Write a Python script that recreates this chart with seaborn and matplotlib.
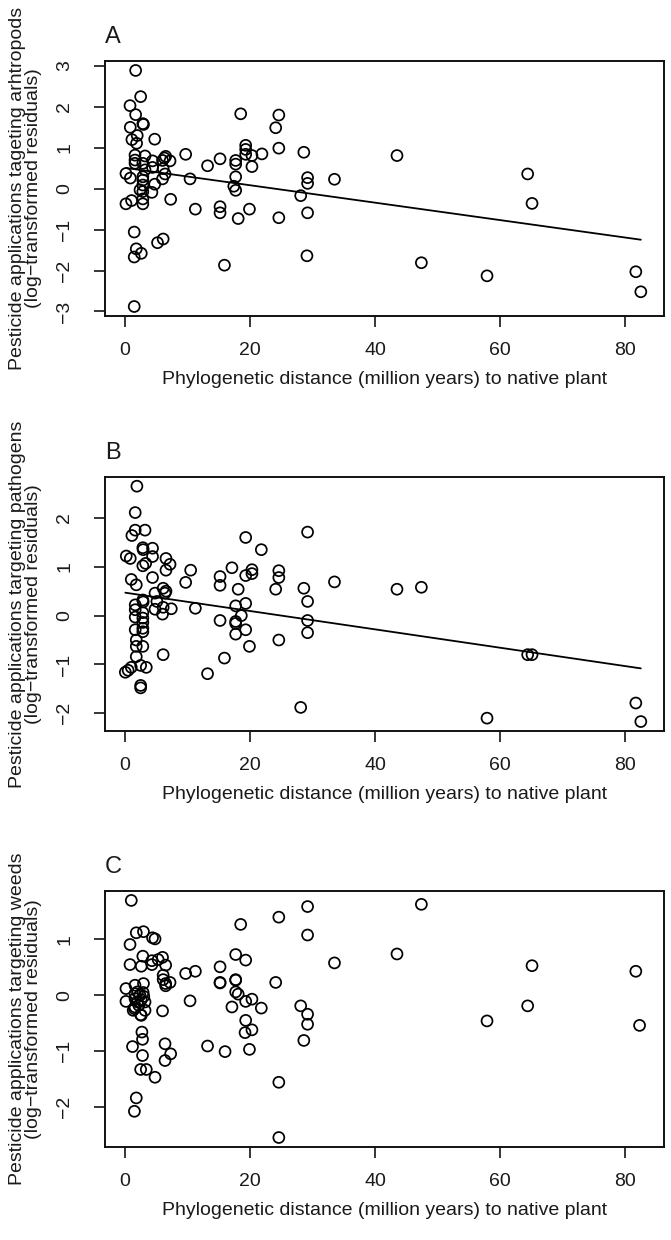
import numpy as np
import pandas as pd
import seaborn as sns
import matplotlib
matplotlib.use("Agg")
import matplotlib.pyplot as plt

# Panel A - arthropods (distance in million years, log-transformed residuals)
arth_dist = [1.7, 2.5, 0.8, 1.7, 2.85, 2.95, 0.84, 1.95, 1.1, 1.85, 4.75,
             0.15, 0.85, 0.15, 1.05, 1.6, 1.6, 1.6, 3.2, 2.85, 3.2, 4.4, 4.4,
             2.85, 2.85, 2.85, 2.4, 2.85, 2.85, 2.85, 4.3, 4.75, 6.0, 6.4, 6.1,
             6.3, 6.5, 6.0, 7.2, 7.3, 1.47, 1.8, 1.47, 2.6, 5.2, 6.1, 1.47,
             9.7, 10.4, 11.25, 13.2, 15.2, 15.2, 15.2, 15.9, 17.4, 17.7, 17.7,
             17.7, 17.7, 18.1, 18.5, 19.3, 19.3, 19.3, 19.9, 20.3, 20.3, 21.9,
             24.1, 24.6, 24.6, 24.6, 28.1, 28.6, 29.2, 29.2, 29.2, 29.1, 33.5,
             43.5, 47.4, 57.9, 64.4, 65.1, 81.7, 82.5]
arth_resid = [2.89, 2.25, 2.03, 1.81, 1.59, 1.57, 1.50, 1.30, 1.20, 1.11, 1.21,
              0.37, 0.26, -0.37, -0.29, 0.82, 0.70, 0.62, 0.80, 0.62, 0.46, 0.68,
              0.52, 0.29, 0.21, 0.09, -0.03, -0.07, -0.25, -0.37, -0.09, 0.11,
              0.24, 0.36, 0.49, 0.75, 0.79, 0.69, 0.68, -0.26, -1.06, -1.47,
              -1.67, -1.58, -1.32, -1.23, -2.88,
              0.84, 0.24, -0.50, 0.56, 0.73, -0.44, -0.59, -1.87, 0.06, -0.04,
              0.29, 0.69, 0.60, -0.73, 1.83, 1.06, 0.96, 0.84, -0.50, 0.81, 0.54,
              0.85, 1.49, 1.80, 0.99, -0.71, -0.17, 0.89, 0.27, 0.13, -0.59,
              -1.64, 0.23, 0.81, -1.81, -2.13, 0.36, -0.36, -2.03, -2.52]

# Panel B - pathogens
path_dist = [1.9, 1.63, 1.63, 3.2, 1.1, 0.2, 0.84, 2.85, 2.9, 4.4, 4.4, 2.85,
             3.3, 6.55, 7.2, 6.55, 4.4, 1.0, 1.8, 4.8, 6.1, 6.55, 6.4, 2.85,
             2.9, 5.1, 4.8, 6.1, 6.0, 7.4, 1.63, 1.63, 1.63, 2.85, 2.85, 2.85,
             2.85, 2.85, 1.63, 1.8, 1.8, 2.85, 1.8, 6.1, 0.05, 0.5, 1.0, 2.5,
             3.4, 2.5, 2.5,
             9.7, 10.5, 11.25, 13.2, 15.2, 15.2, 15.2, 15.9, 17.1, 17.7, 17.7,
             17.7, 17.7, 18.1, 18.6, 19.3, 19.3, 19.3, 19.3, 19.9, 20.3, 20.3,
             21.8, 24.1, 24.6, 24.6, 24.6, 28.1, 28.6, 29.2, 29.2, 29.2, 29.2,
             33.5, 43.5, 47.4, 57.9, 64.4, 65.1, 81.7, 82.5]
path_resid = [2.65, 2.11, 1.75, 1.75, 1.64, 1.22, 1.17, 1.39, 1.35, 1.38, 1.21,
              1.02, 1.07, 1.17, 1.05, 0.93, 0.78, 0.74, 0.63, 0.46, 0.56, 0.50,
              0.46, 0.32, 0.28, 0.29, 0.13, 0.17, 0.03, 0.14, 0.22, 0.12, -0.03,
              0.06, -0.05, -0.14, -0.26, -0.33, -0.29, -0.50, -0.63, -0.63,
              -0.84, -0.80, -1.16, -1.12, -1.06, -1.02, -1.06, -1.43, -1.48,
              0.68, 0.93, 0.15, -1.19, 0.80, 0.62, -0.10, -0.87, 0.98, 0.20,
              -0.12, -0.16, -0.38, 0.54, 0.0, 1.60, 0.82, 0.25, -0.29, -0.63,
              0.94, 0.86, 1.35, 0.54, 0.92, 0.78, -0.50, -1.88, 0.56, 1.71, 0.29,
              -0.10, -0.35, 0.69, 0.54, 0.58, -2.10, -0.80, -0.80, -1.79, -2.17]

# Panel C - weeds
weed_dist = [1.0, 1.8, 2.95, 4.4, 4.8, 0.8, 2.85, 4.3, 4.3, 5.3, 6.0, 0.8, 2.6,
             6.5, 6.1, 6.1, 6.5, 6.5, 7.2, 0.15, 2.95, 1.6,
             0.15, 1.6, 1.6, 2.0, 2.4, 2.6, 2.9, 3.2, 1.6, 1.3, 2.6, 3.2, 2.2,
             2.0, 3.0, 1.5, 2.5,
             6.0, 2.7, 2.8, 1.2, 2.8, 6.4, 7.3, 6.4, 2.5, 3.4, 4.8, 1.8, 1.5,
             9.7, 10.4, 11.25, 13.2, 15.2, 15.2, 15.2, 16.0, 17.1, 17.7, 17.7,
             17.7, 17.7, 18.1, 18.5, 19.3, 19.3, 19.3, 19.2, 19.9, 20.3, 20.3,
             21.8, 24.1, 24.6, 24.6, 24.6, 28.1, 28.6, 29.2, 29.2, 29.2, 29.2,
             33.5, 43.5, 47.4, 57.9, 64.4, 65.1, 81.7, 82.3]
weed_resid = [1.70, 1.12, 1.14, 1.03, 1.01, 0.91, 0.70, 0.62, 0.55, 0.64, 0.68,
              0.55, 0.52, 0.54, 0.36, 0.28, 0.21, 0.17, 0.23, 0.12, 0.21, 0.18,
              -0.11, 0.03, -0.06, -0.12, 0.0, -0.08, 0.05, -0.12, -0.21, -0.27,
              -0.36, -0.27, -0.18, 0.06, -0.02, -0.24, -0.35,
              -0.28, -0.66, -0.79, -0.92, -1.08, -0.87, -1.05, -1.17, -1.33,
              -1.33, -1.47, -1.84, -2.08,
              0.39, -0.10, 0.43, -0.91, 0.51, 0.23, 0.22, -1.01, -0.21, 0.73,
              0.28, 0.27, 0.06, 0.02, 1.27, 0.63, -0.11, -0.45, -0.67, -0.97,
              -0.07, -0.62, -0.23, 0.23, 1.40, -1.56, -2.55, -0.19, -0.81, 1.59,
              1.08, -0.34, -0.52, 0.58, 0.74, 1.63, -0.46, -0.19, 0.53, 0.43,
              -0.54]

# fitted lines (intercept, slope); weeds have no line
fit_arth = (0.51, -0.0213)
fit_path = (0.47, -0.0188)

panel_letters = ["A", "B", "C"]
ylabels = ["Pesticide applications tageting arhtropods",
           "Pesticide applications targeting pathogens",
           "Pesticide applications targeting weeds"]
yticks = [[-3, -2, -1, 0, 1, 2, 3], [-2, -1, 0, 1, 2], [-2, -1, 0, 1]]
xlabel = "Phylogenetic distance (million years) to native plant"

sns.set_style("ticks")
plt.rcParams['font.family'] = ['Liberation Sans', 'DejaVu Sans']
plt.rcParams['font.size'] = 14

fig = plt.figure(figsize=(6.71, 12.40), dpi=100)

# axes boxes in figure fractions: [left, bottom, width, height]
boxes = [[0.1565, 0.7452, 0.8330, 0.2056],
         [0.1565, 0.4105, 0.8330, 0.2050],
         [0.1565, 0.0750, 0.8330, 0.2065]]

datasets = [(arth_dist, arth_resid, fit_arth),
            (path_dist, path_resid, fit_path),
            (weed_dist, weed_resid, None)]

for i, (dist, resid, fit) in enumerate(datasets):
    ax = fig.add_axes(boxes[i])
    df = pd.DataFrame({"dist": dist, "resid": resid})
    sns.scatterplot(data=df, x="dist", y="resid", ax=ax, marker="o", s=62,
                    facecolors="none", edgecolor="black", linewidth=1.25)
    if fit is not None:
        xs = np.array([df["dist"].min(), df["dist"].max()])
        sns.lineplot(x=xs, y=fit[0] + fit[1] * xs, ax=ax, color="black",
                     linewidth=1.3)

    # R-style limits: data range padded by 4 %
    ymin, ymax = df["resid"].min(), df["resid"].max()
    pad = 0.04 * (ymax - ymin)
    ax.set_ylim(ymin - pad, ymax + pad)
    ax.set_xlim(-3.2, 86.2)

    ax.set_xticks([0, 20, 40, 60, 80])
    ax.set_yticks(yticks[i])
    ax.tick_params(axis="both", length=8, width=1.1, labelsize=14,
                   color="black", labelcolor="#1a1a1a")
    ax.tick_params(axis="x", pad=11)
    ax.tick_params(axis="y", pad=15)
    for lab in ax.get_yticklabels():
        lab.set_rotation(90)
        lab.set_va("center")
    for sp in ax.spines.values():
        sp.set_visible(True)
        sp.set_linewidth(1.4)
        sp.set_color("#111111")

    ax.set_xlabel(xlabel, fontsize=14, color="#1a1a1a")
    ax.xaxis.set_label_coords(0.5, -0.215)
    ax.set_ylabel(ylabels[i] + "\n(log\u2212transformed residuals)",
                  fontsize=14, color="#1a1a1a", linespacing=0.95)
    ax.yaxis.set_label_coords(-0.112, 0.5)
    ax.text(0.0, 1.07, panel_letters[i], transform=ax.transAxes,
            fontsize=17, color="#1a1a1a", ha="left", va="baseline")

fig.savefig("out.png", dpi=100, facecolor="white")
